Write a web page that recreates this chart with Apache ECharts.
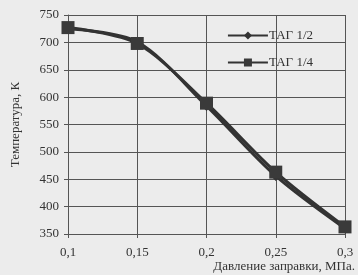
<!DOCTYPE html>
<html>
<head>
<meta charset="utf-8">
<script src="https://cdn.jsdelivr.net/npm/echarts@6/dist/echarts.min.js"></script>
<style>
  html, body { margin: 0; padding: 0; background: #ececec; }
  #chart { width: 358px; height: 275px; }
</style>
</head>
<body>
<div id="chart"></div>
<script>
// давление заправки, МПа
const pressure = [0.1, 0.15, 0.2, 0.25, 0.3];
const tag12 = [725, 701, 584, 456, 360];
const tag14 = [727, 698, 589, 463, 363];
const yTicks = [350, 400, 450, 500, 550, 600, 650, 700, 750];

const serif = '"Liberation Serif", "DejaVu Serif", serif';
const ink = '#333333';

let chart = echarts.init(document.getElementById('chart'), null, { renderer: 'canvas' });

function getOption() {
  return {
    backgroundColor: '#ececec',
    animation: false,
    grid: { left: 68, right: 13, top: 15, bottom: 41 },
    legend: {
      orient: 'vertical',
      right: 40,
      top: 24,
      itemGap: 14,
      itemWidth: 40,
      itemHeight: 10,
      textStyle: { fontFamily: serif, fontSize: 13, color: ink, padding: [0, 0, 0, -4] },
      data: ['ТАГ 1/2', 'ТАГ 1/4']
    },
    xAxis: {
      type: 'value',
      min: 0.1, max: 0.3, interval: 0.05,
      name: 'Давление заправки, МПа.',
      nameLocation: 'end',
      nameGap: 0,
      nameTextStyle: {
        fontFamily: serif, fontSize: 13, color: ink,
        align: 'right', verticalAlign: 'top', padding: [26, -10, 0, 0]
      },
      axisLine: { show: true, lineStyle: { color: '#555', width: 1 } },
      axisTick: { show: true, length: 4, inside: false, lineStyle: { color: '#555' } },
      axisLabel: {
        fontFamily: serif, fontSize: 13, color: ink, margin: 12,
        formatter: v => String(+v.toFixed(2)).replace('.', ',')
      },
      splitLine: { show: true, lineStyle: { color: '#555', width: 1 } }
    },
    yAxis: {
      type: 'value',
      min: yTicks[0], max: yTicks[yTicks.length - 1], interval: 50,
      name: 'Температура, К',
      nameLocation: 'middle',
      nameGap: 46,
      nameRotate: 90,
      nameTextStyle: { fontFamily: serif, fontSize: 13, color: ink },
      axisLine: { show: true, lineStyle: { color: '#555', width: 1 } },
      axisTick: { show: true, length: 4, lineStyle: { color: '#555' } },
      axisLabel: { fontFamily: serif, fontSize: 13, color: ink, margin: 9 },
      splitLine: { show: true, lineStyle: { color: '#555', width: 1 } }
    },
    series: [
      {
        name: 'ТАГ 1/2',
        type: 'line',
        smooth: 0.3,
        data: pressure.map((p, i) => [p, tag12[i]]),
        symbol: 'diamond',
        symbolSize: 10,
        lineStyle: { color: ink, width: 3 },
        itemStyle: { color: ink }
      },
      {
        name: 'ТАГ 1/4',
        type: 'line',
        smooth: 0.3,
        data: pressure.map((p, i) => [p, tag14[i]]),
        symbol: 'rect',
        symbolSize: 13,
        lineStyle: { color: ink, width: 3 },
        itemStyle: { color: '#3a3a3a' }
      }
    ]
  };
}

chart.setOption(getOption());
</script>
</body>
</html>
